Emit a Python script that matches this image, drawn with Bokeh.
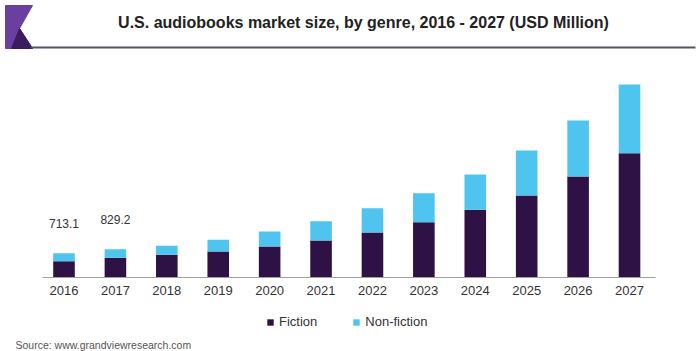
from bokeh.plotting import figure
from bokeh.models import (ColumnDataSource, Range1d, LinearAxis, FixedTicker,
                          Legend, LegendItem, Label)
from bokeh.core.properties import value
from bokeh.embed import file_html
from bokeh.resources import INLINE

# ---- data ----
years = [2016, 2017, 2018, 2019, 2020, 2021, 2022, 2023, 2024, 2025, 2026, 2027]
fiction = [470, 575, 670, 765, 915, 1095, 1335, 1645, 2015, 2445, 3015, 3715]
nonfiction = [243.1, 254.2, 270, 350, 450, 580, 730, 870, 1060, 1350, 1680, 2060]
labeled_years = [2016, 2017]
series_names = ["Fiction", "Non-fiction"]
title_text = "U.S. audiobooks market size, by genre, 2016 - 2027 (USD Million)"
source_text = "Source: www.grandviewresearch.com"

FONT = "Liberation Sans"
C_FIC = "#2e1246"
C_NON = "#4fc4ee"

W, H = 700, 351
PX_PER_YEAR = 51.41
VAL_PER_PX = 30.0
X0_PX = 63.5      # pixel x of first year
BASE_PX = 276.5   # pixel y of baseline

x_range = Range1d(years[0] - X0_PX / PX_PER_YEAR, years[0] + (W - X0_PX) / PX_PER_YEAR)
y_range = Range1d(-(H - BASE_PX) * VAL_PER_PX, BASE_PX * VAL_PER_PX)

p = figure(width=W, height=H, x_range=x_range, y_range=y_range,
           min_border=0, x_axis_location=None, y_axis_location=None,
           toolbar_location=None, output_backend="svg",
           outline_line_color=None, background_fill_color="white")
p.grid.grid_line_color = None
p.extra_x_ranges = {"px": Range1d(0, W)}
p.extra_y_ranges = {"py": Range1d(H, 0)}

src = ColumnDataSource(dict(year=years, fiction=fiction, nonfiction=nonfiction))
rs = p.vbar_stack(["fiction", "nonfiction"], x="year", width=0.42,
                  fill_color=[C_FIC, C_NON], line_color=None, source=src)

# axis at baseline
ax = LinearAxis(fixed_location=0,
                bounds=(years[0] - 0.42, years[-1] + 0.5),
                ticker=FixedTicker(ticks=years),
                major_label_overrides={y: str(y) for y in years},
                major_tick_line_color=None, minor_tick_line_color=None,
                axis_line_color="#a0a0a0", axis_line_width=1,
                major_label_text_font_size="13px",
                major_label_text_font=FONT,
                major_label_text_color="#333333",
                major_label_standoff=3)
p.add_layout(ax, "below")

# value labels
lab_x = [y for y in labeled_years]
lab_y = [fiction[years.index(y)] + nonfiction[years.index(y)] for y in labeled_years]
lab_t = [f"{v:.1f}" for v in lab_y]
p.text(x=lab_x, y=lab_y, text=lab_t, y_offset=-25,
       text_align="center", text_baseline="bottom",
       text_font=value(FONT), text_font_size="12px", text_color="#333333")

# logo
p.patch(x=[5, 32, 19, 32, 5], y=[5, 5, 28, 48, 48], color="#6b3fa0",
        x_range_name="px", y_range_name="py")
p.patch(x=[11, 19, 32], y=[48, 28, 48], color="#3b1d5e",
        x_range_name="px", y_range_name="py")
# rule under title
p.segment(x0=[30], y0=[47], x1=[695], y1=[47], line_color="#55526b",
          line_width=2, x_range_name="px", y_range_name="py")

p.add_layout(Label(x=363, y=22, text=title_text, x_range_name="px", y_range_name="py",
                   text_align="center", text_baseline="middle",
                   text_font=FONT, text_font_size="16px", text_font_style="bold",
                   text_color="#222222"))
p.add_layout(Label(x=15, y=344, text=source_text, x_range_name="px", y_range_name="py",
                   text_align="left", text_baseline="middle",
                   text_font=FONT, text_font_size="10.5px", text_color="#555555"))

legend = Legend(items=[LegendItem(label=series_names[0], renderers=[rs[0]]),
                       LegendItem(label=series_names[1], renderers=[rs[1]])],
                orientation="horizontal", location=(266, 22),
                glyph_width=8, glyph_height=8, label_standoff=5, spacing=35,
                padding=0, margin=0, border_line_color=None,
                background_fill_alpha=0, label_height=13,
                label_text_font=FONT, label_text_font_size="13px",
                label_text_color="#333333")
p.add_layout(legend)

open("out.html", "w").write(file_html(p, INLINE))
